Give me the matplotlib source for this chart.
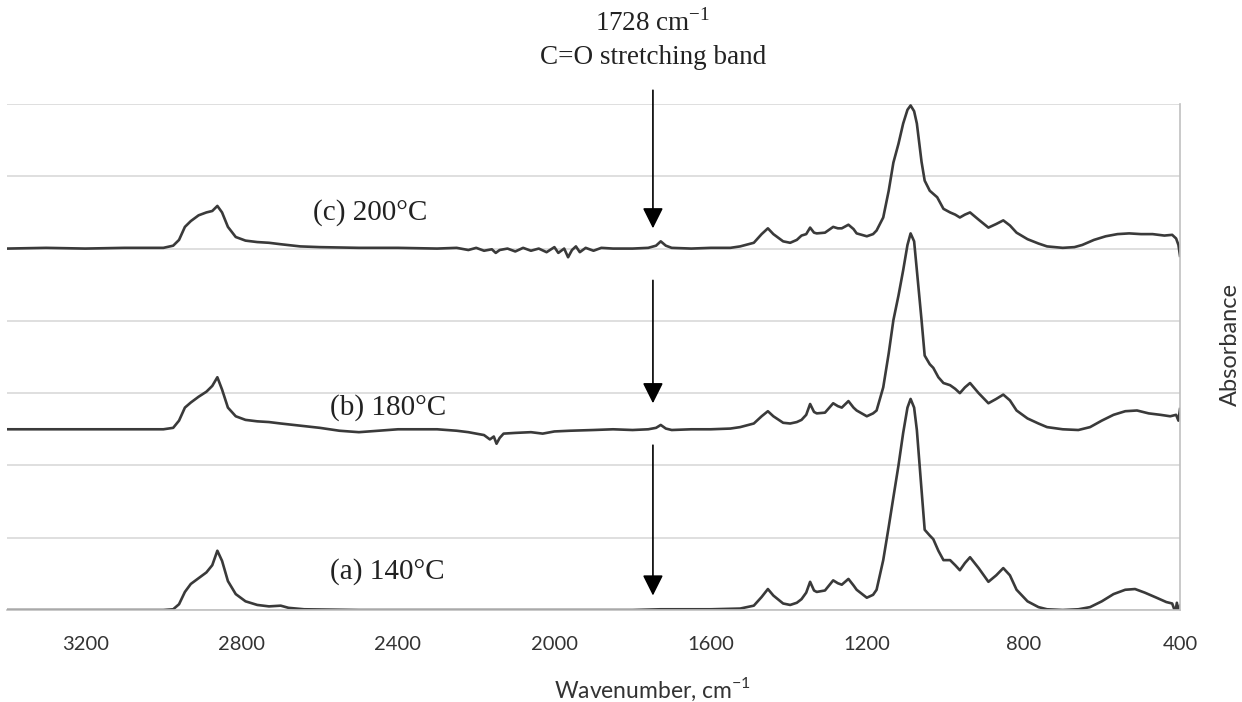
import numpy as np
import matplotlib.pyplot as plt

plt.rcParams['mathtext.fontset'] = 'custom'
plt.rcParams['mathtext.rm'] = 'Liberation Serif'
plt.rcParams['mathtext.sf'] = 'Lato'

# ---------------------------------------------------------------------------
# spectra (wavenumber cm-1, absorbance above own baseline)
# ---------------------------------------------------------------------------
spec_a = [(3400, 0.0), (3200, 0.0), (3000, 0.0), (2975, 0.01), (2960, 0.08), (2945, 0.25),
          (2930, 0.36), (2910, 0.44), (2890, 0.52), (2875, 0.62), (2862, 0.82), (2850, 0.68),
          (2835, 0.40), (2815, 0.22), (2790, 0.12), (2760, 0.07), (2730, 0.05), (2700, 0.06),
          (2680, 0.03), (2640, 0.01), (2500, 0.0), (2200, 0.0), (2000, 0.0), (1800, 0.0),
          (1728, 0.01), (1600, 0.01), (1525, 0.02), (1490, 0.06), (1470, 0.18), (1454, 0.29),
          (1440, 0.2), (1415, 0.09), (1397, 0.07), (1380, 0.1), (1368, 0.15), (1356, 0.24),
          (1346, 0.39), (1336, 0.27), (1329, 0.25), (1308, 0.27), (1287, 0.41), (1275, 0.37),
          (1265, 0.35), (1248, 0.43), (1235, 0.34), (1227, 0.28), (1201, 0.17), (1185, 0.21),
          (1176, 0.28), (1159, 0.69), (1145, 1.15), (1133, 1.56), (1120, 2.0), (1108, 2.45),
          (1097, 2.8), (1089, 2.92), (1080, 2.8), (1073, 2.49), (1061, 1.66), (1053, 1.11),
          (1040, 1.03), (1031, 0.98), (1018, 0.82), (1005, 0.69), (988, 0.69), (975, 0.62),
          (963, 0.55), (950, 0.65), (937, 0.73), (915, 0.58), (890, 0.39), (870, 0.48),
          (852, 0.58), (835, 0.48), (818, 0.28), (790, 0.12), (762, 0.04), (740, 0.01),
          (700, 0.0), (660, 0.01), (630, 0.04), (600, 0.12), (570, 0.22), (540, 0.28),
          (515, 0.29), (490, 0.24), (460, 0.17), (435, 0.11), (420, 0.09), (412, -0.03),
          (408, 0.1), (404, -0.05), (400, 0.06)]

spec_b = [(3400, 0.0), (3200, 0.0), (3000, 0.0), (2975, 0.02), (2960, 0.12), (2945, 0.3),
          (2930, 0.37), (2910, 0.45), (2890, 0.52), (2875, 0.6), (2862, 0.72), (2850, 0.55),
          (2835, 0.3), (2815, 0.18), (2790, 0.13), (2760, 0.11), (2730, 0.1), (2700, 0.08),
          (2650, 0.05), (2600, 0.02), (2550, -0.02), (2500, -0.04), (2450, -0.02), (2400, 0.0),
          (2300, 0.0), (2250, -0.02), (2220, -0.04), (2200, -0.06), (2180, -0.08), (2165, -0.14),
          (2155, -0.1), (2148, -0.2), (2140, -0.12), (2130, -0.06), (2100, -0.05), (2060, -0.04),
          (2030, -0.06), (2000, -0.03), (1960, -0.02), (1900, -0.01), (1850, 0.0), (1800, -0.01),
          (1760, 0.0), (1740, 0.02), (1728, 0.06), (1715, 0.01), (1700, -0.01), (1650, 0.0),
          (1600, 0.0), (1550, 0.01), (1525, 0.03), (1490, 0.08), (1470, 0.18), (1454, 0.25),
          (1440, 0.18), (1415, 0.09), (1397, 0.08), (1380, 0.1), (1368, 0.13), (1356, 0.2),
          (1346, 0.35), (1336, 0.24), (1329, 0.22), (1308, 0.23), (1287, 0.36), (1275, 0.32),
          (1265, 0.3), (1248, 0.39), (1235, 0.3), (1227, 0.26), (1201, 0.18), (1185, 0.22),
          (1176, 0.26), (1159, 0.58), (1145, 1.05), (1133, 1.51), (1120, 1.85), (1108, 2.2),
          (1097, 2.55), (1089, 2.71), (1080, 2.6), (1073, 2.2), (1061, 1.51), (1053, 1.02),
          (1040, 0.9), (1031, 0.85), (1018, 0.72), (1005, 0.64), (988, 0.61), (975, 0.56),
          (963, 0.5), (950, 0.58), (937, 0.64), (915, 0.5), (890, 0.36), (870, 0.42),
          (852, 0.48), (835, 0.4), (818, 0.26), (790, 0.15), (762, 0.08), (740, 0.03),
          (700, 0.0), (660, -0.01), (630, 0.03), (600, 0.12), (570, 0.2), (540, 0.25),
          (510, 0.26), (480, 0.22), (450, 0.2), (425, 0.18), (410, 0.2), (404, 0.12),
          (400, 0.28)]

spec_c = [(3400, 0.0), (3300, 0.01), (3200, 0.0), (3100, 0.01), (3000, 0.01), (2975, 0.04),
          (2960, 0.12), (2945, 0.3), (2930, 0.38), (2910, 0.46), (2890, 0.5), (2875, 0.52),
          (2862, 0.59), (2850, 0.5), (2835, 0.3), (2815, 0.16), (2790, 0.11), (2760, 0.09),
          (2730, 0.08), (2700, 0.06), (2650, 0.03), (2600, 0.02), (2500, 0.01), (2400, 0.01),
          (2300, 0.0), (2250, 0.01), (2220, -0.02), (2200, 0.01), (2180, -0.03), (2160, -0.01),
          (2150, -0.06), (2140, -0.02), (2120, 0.0), (2100, -0.04), (2080, 0.01), (2060, -0.03),
          (2040, 0.0), (2020, -0.05), (2000, 0.02), (1990, -0.06), (1975, 0.0), (1965, -0.12),
          (1955, -0.02), (1945, 0.03), (1935, -0.05), (1920, 0.01), (1900, -0.03), (1880, 0.01),
          (1850, 0.0), (1800, 0.0), (1760, 0.01), (1740, 0.04), (1728, 0.1), (1715, 0.04),
          (1700, 0.01), (1650, 0.0), (1600, 0.01), (1550, 0.01), (1525, 0.03), (1490, 0.08),
          (1470, 0.2), (1454, 0.28), (1440, 0.2), (1415, 0.1), (1397, 0.08), (1380, 0.12),
          (1368, 0.18), (1356, 0.2), (1346, 0.29), (1336, 0.22), (1329, 0.21), (1308, 0.22),
          (1287, 0.3), (1275, 0.28), (1265, 0.28), (1248, 0.33), (1235, 0.27), (1227, 0.21),
          (1201, 0.17), (1185, 0.2), (1176, 0.25), (1159, 0.43), (1145, 0.8), (1133, 1.19),
          (1120, 1.45), (1108, 1.73), (1097, 1.92), (1089, 1.98), (1080, 1.9), (1073, 1.73),
          (1061, 1.2), (1053, 0.94), (1040, 0.8), (1021, 0.71), (1005, 0.55), (988, 0.5),
          (975, 0.47), (963, 0.43), (950, 0.47), (937, 0.5), (915, 0.4), (890, 0.29),
          (870, 0.34), (852, 0.39), (835, 0.32), (818, 0.22), (790, 0.13), (762, 0.07),
          (740, 0.03), (700, 0.01), (670, 0.02), (650, 0.05), (620, 0.12), (590, 0.17),
          (560, 0.2), (530, 0.21), (500, 0.2), (470, 0.2), (440, 0.18), (420, 0.19),
          (410, 0.14), (404, 0.05), (400, -0.1)]

spectra = [spec_a, spec_b, spec_c]
offsets = [0.0, 2.5, 5.0]
labels = ['(a) 140°C', '(b) 180°C', '(c) 200°C']
label_pos = [(2574, 0.53), (2574, 2.8), (2617, 5.5)]
arrows = [(0.2, 2.28), (2.86, 4.56), (5.28, 7.19)]   # (tip, tail) in y units
band_wn = 1748

xticks = [3200, 2800, 2400, 2000, 1600, 1200, 800, 400]

# ---------------------------------------------------------------------------
fig = plt.figure(figsize=(12.42, 7.02), dpi=100)
ax = fig.add_axes([7 / 1242, 1 - 610 / 702, 1173 / 1242, 506 / 702])

line_col = '#3a3a3a'
for spec, off in zip(spectra, offsets):
    arr = np.array(spec)
    ax.plot(arr[:, 0], arr[:, 1] + off, color=line_col, lw=1.9, solid_joinstyle='round')

ax.set_xlim(3400, 400)
ax.set_ylim(0, 7)
ax.set_xticks(xticks)
ax.set_xticklabels([str(t) for t in xticks], fontfamily='Lato', fontsize=14.5, color='#333333')
ax.set_yticks(range(0, 8))
ax.set_yticklabels([])
ax.tick_params(axis='both', length=0, pad=18.5)
ax.grid(axis='y', color='#d6d6d6', lw=1.1)
ax.set_axisbelow(True)
for s in ['left', 'top']:
    ax.spines[s].set_visible(False)
for s in ['right', 'bottom']:
    ax.spines[s].set_color('#c0c0c0')
    ax.spines[s].set_linewidth(1.2)

for txt, (x, y) in zip(labels, label_pos):
    ax.text(x, y, txt, fontfamily='Liberation Serif', fontsize=21, ha='left', va='center',
            color='#222222')

for tip, tail in arrows:
    ax.annotate('', xy=(band_wn, tip), xytext=(band_wn, tail), annotation_clip=False,
                arrowprops=dict(arrowstyle='-|>,head_length=0.9,head_width=0.45',
                                mutation_scale=14, color='black', lw=1.2,
                                shrinkA=0, shrinkB=0))

fig.text(653 / 1242, 1 - 23 / 702, r'1728 cm$^{\mathrm{-1}}$', fontfamily='Liberation Serif',
         fontsize=19.5, ha='center', va='center', color='#222222')
fig.text(653 / 1242, 1 - 57 / 702, 'C=O stretching band', fontfamily='Liberation Serif',
         fontsize=19.5, ha='center', va='center', color='#222222')

fig.text(652 / 1242, 1 - 689 / 702, r'Wavenumber, cm$^{\mathsf{-1}}$', fontfamily='Lato',
         fontsize=16.5, ha='center', va='center', color='#333333')
fig.text(1230 / 1242, 1 - 345 / 702, 'Absorbance', fontfamily='Lato', fontsize=17,
         rotation=90, ha='center', va='center', color='#333333')

fig.savefig('out.png', dpi=100)
